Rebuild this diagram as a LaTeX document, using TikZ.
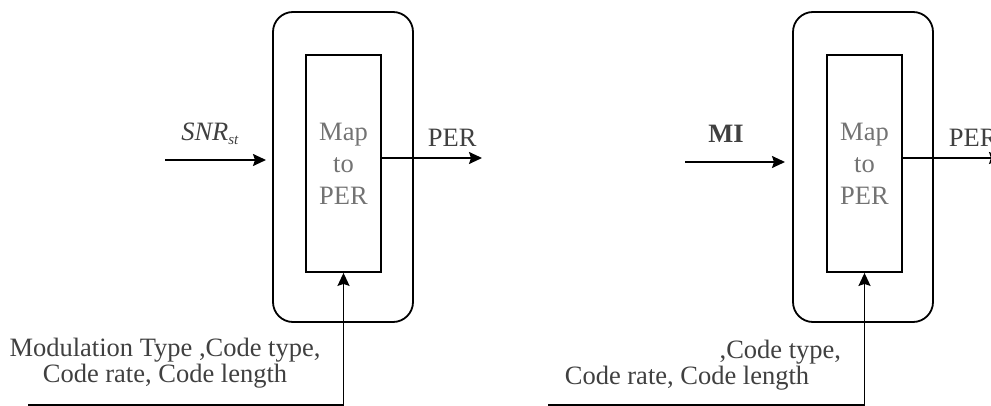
\documentclass[tikz,border=0pt]{standalone}
\usepackage{fontspec}
\setmainfont{Liberation Serif}
\usetikzlibrary{arrows.meta}
\begin{document}
\begin{tikzpicture}[x=1pt, y=-1pt,
  line width=1.8pt,
  frame/.style={draw, rounded corners=20pt, minimum width=140pt, minimum height=310pt, inner sep=0pt},
  mapbox/.style={draw, minimum width=75pt, minimum height=217pt, inner sep=0pt, align=center,
    text=black!55, font=\fontsize{26.5}{32}\selectfont},
  lbl/.style={text=black!75, font=\fontsize{26.5}{26}\selectfont, inner sep=0pt},
  arr/.style={-{Stealth[length=13pt,width=12pt,inset=2pt]}}]
\useasboundingbox (0,0) rectangle (991,406);

% ---- left block: SNR input ----
\node[frame]  (outerA) at (343,167) {};
\node[mapbox] (innerA) at (343.5,163.5) {Map\\to\\PER};
\coordinate (inA)  at (165,160);
\coordinate (inAe) at (266,160);
\coordinate (outA) at (482,158);
\coordinate (blA)  at (28,405);
\draw[arr] (inA) -- (inAe);
\draw[arr] (outA -| innerA.east) -- (outA);
\draw[arr] (blA) -- (blA -| innerA.south) -- (innerA.south);
\node[lbl, anchor=base] (snr) at (210,141) {\textit{SNR}\raisebox{-4pt}{\fontsize{15}{15}\selectfont\textit{st}}};
\node[lbl, anchor=base west] (perA) at (427,147) {PER};
\node[lbl, align=center] (parA) at (165,363) {Modulation Type ,Code type,\\Code rate, Code length};

% ---- right block: MI input ----
\node[frame]  (outerB) at (863,167) {};
\node[mapbox] (innerB) at (864.5,163.5) {Map\\to\\PER};
\coordinate (inB)  at (685,162);
\coordinate (inBe) at (785,162);
\coordinate (outB) at (1002,158);
\coordinate (blB)  at (548,405);
\draw[arr] (inB) -- (inBe);
\draw[arr] (outB -| innerB.east) -- (outB);
\draw[arr] (blB) -- (blB -| innerB.south) -- (innerB.south);
\node[lbl, anchor=base] (mi) at (726,143) {\textbf{MI}};
\node[lbl, anchor=base west] (perB) at (948,147) {PER};
\node[lbl, anchor=base east] (parB1) at (842,358) {,Code type,};
\node[lbl, anchor=base] (parB2) at (687,384) {Code rate, Code length};
\end{tikzpicture}
\end{document}
